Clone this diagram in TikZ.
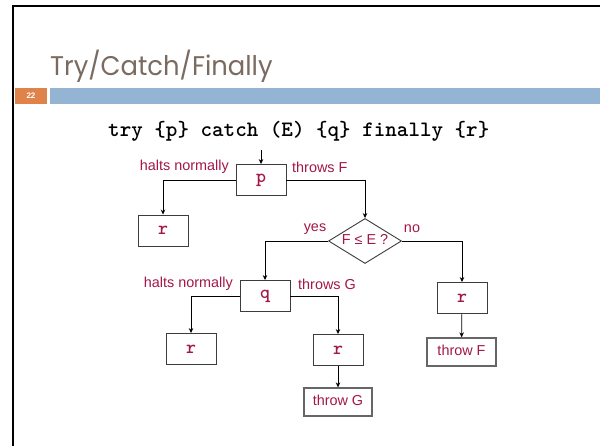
\documentclass[tikz,border=0pt]{standalone}
\usepackage{fontspec}
\setmainfont{Liberation Sans}
\newfontfamily\titlefont{Poppins}
\usetikzlibrary{shapes.geometric,arrows.meta}
\definecolor{labelred}{HTML}{A3174A}
\definecolor{titlegray}{HTML}{7A6A60}
\definecolor{barblue}{HTML}{94B4D3}
\definecolor{barorange}{HTML}{E0834A}
\definecolor{boxgray}{HTML}{3C3C3C}
\newcommand\codefont{\ttfamily\bfseries}
\begin{document}
\begin{tikzpicture}[x=1pt,y=-1pt,
  blk/.style={draw=boxgray, line width=0.9pt, minimum width=50pt, minimum height=31pt,
    inner sep=0pt, text=labelred, font=\codefont\fontsize{19}{19}\selectfont},
  outbox/.style={draw=gray!80!black, line width=1.3pt, minimum width=68pt, minimum height=28pt,
    inner sep=0pt, text=labelred, font=\fontsize{14.4}{14.4}\selectfont},
  lbl/.style={text=labelred, font=\fontsize{14.4}{14.4}\selectfont, inner sep=0pt},
  flow/.style={draw=black, line width=0.7pt, -{Stealth[length=5pt,width=4.5pt]}},
]
\useasboundingbox (0,0) rectangle (600,445);
\fill[white] (0,0) rectangle (600,445);
% slide frame
\draw[line width=2.5pt, line join=miter] (13,446) -- (13,6) -- (601,6);
% title and header bar
\node[anchor=base west, text=titlegray, font=\titlefont\fontsize{27}{27}\selectfont,
  inner sep=0pt] (title) at (50,75) {\scalebox{0.957}[1]{Try/Catch/Finally}};
\fill[barorange] (15,87.5) rectangle (47,104);
\node[text=white, font=\bfseries\fontsize{8}{8}\selectfont, inner sep=0pt] (pagenum) at (31,95.5) {22};
\fill[barblue] (50,87.5) rectangle (600,104);
% statement
\node[anchor=base west, font=\codefont\fontsize{22}{22}\selectfont, inner sep=0pt]
  (code) at (108,136) {try \{p\} catch (E) \{q\} finally \{r\}};
% flow chart
\coordinate (entry) at (261,150);
\node[blk] (p) at (261,180) {p};
\node[blk] (r1) at (163,230.5) {r};
\node[draw=boxgray, line width=0.9pt, diamond, aspect=1.6, minimum width=73pt,
  minimum height=45pt, inner sep=0pt] (dia) at (365,241) {};
\node[lbl] (cond) at (365,239) {F ≤ E ?};
\node[blk] (q) at (265,296) {q};
\node[blk] (r3) at (462,298) {r};
\node[blk] (r4) at (191,349) {r};
\node[blk] (r5) at (338,350) {r};
\node[outbox, minimum width=69pt] (tF) at (461.5,352) {\raisebox{4pt}{throw F}};
\node[outbox] (tG) at (338,402) {\raisebox{4pt}{throw G}};
% branch labels
\node[lbl, anchor=east] (hn1) at (229,167) {halts normally};
\node[lbl, anchor=west] (tf) at (292,167) {throws F};
\node[lbl] (yes) at (315,229) {yes};
\node[lbl] (no) at (412,229) {no};
\node[lbl, anchor=east] (hn2) at (233,284) {halts normally};
\node[lbl, anchor=west] (tg) at (298,284) {throws G};
% connectors
\draw[flow] (entry) -- (p);
\draw[flow] (p.west) -| (r1.north);
\draw[flow] (p.east) -| (dia.north);
\draw[flow] (dia.west) -| (q.north);
\draw[flow] (dia.east) -| (r3.north);
\draw[flow] (q.west) -| (r4.north);
\draw[flow] (q.east) -| (r5.north);
\draw[flow] (r3) -- (tF);
\draw[flow] (r5) -- (tG);
\end{tikzpicture}
\end{document}
